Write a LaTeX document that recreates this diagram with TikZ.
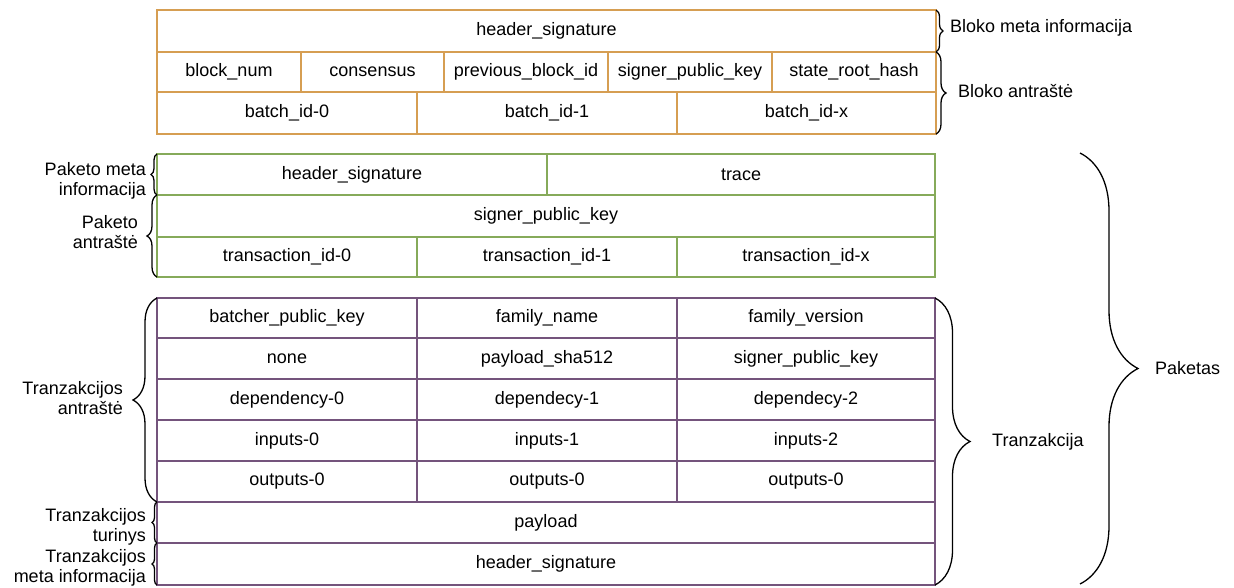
\documentclass[tikz,border=0pt]{standalone}
\usepackage{fontspec}
\setmainfont{Liberation Sans}
\usetikzlibrary{decorations.pathreplacing}
\definecolor{blockc}{RGB}{214,158,82}
\definecolor{batchc}{RGB}{134,170,90}
\definecolor{txc}{RGB}{116,84,124}

% cell: name, colour, x1, y1, x2, y2, text
\newcommand\mkcell[7]{%
  \node[cell, draw=#2, minimum width={(#5-#3)*1pt}, minimum height={(#6-#4)*1pt}]
    (#1) at (#3,#4) {#7};}

\begin{document}
\begin{tikzpicture}[x=1pt,y=-1pt,
  txt/.style={font=\fontsize{18}{20.5}\selectfont},
  cell/.style={txt, line width=1.5pt, inner sep=0pt, outer sep=0pt, anchor=north west},
  lbl/.style={txt, inner sep=0pt, align=right},
  brc/.style={decorate, decoration={brace, amplitude=#1}, line width=1.3pt, black}
]
\useasboundingbox (0,0) rectangle (1234,588);

% block
\mkcell{bh}{blockc}{157}{10}{936}{52}{header\_signature}
\mkcell{bn1}{blockc}{157}{52}{301}{92}{block\_num}
\mkcell{bn2}{blockc}{301}{52}{444}{92}{consensus}
\mkcell{bn3}{blockc}{444}{52}{608}{92}{previous\_block\_id}
\mkcell{bn4}{blockc}{608}{52}{772}{92}{signer\_public\_key}
\mkcell{bn5}{blockc}{772}{52}{936}{92}{state\_root\_hash}
\mkcell{bb0}{blockc}{157}{92}{417}{134}{batch\_id-0}
\mkcell{bb1}{blockc}{417}{92}{677}{134}{batch\_id-1}
\mkcell{bbx}{blockc}{677}{92}{936}{134}{batch\_id-x}

% batch
\mkcell{gh}{batchc}{157}{154}{547}{195}{header\_signature}
\mkcell{gt}{batchc}{547}{154}{935}{195}{trace}
\mkcell{gk}{batchc}{157}{195}{935}{237}{signer\_public\_key}
\mkcell{gi0}{batchc}{157}{237}{417}{277}{transaction\_id-0}
\mkcell{gi1}{batchc}{417}{237}{677}{277}{transaction\_id-1}
\mkcell{gix}{batchc}{677}{237}{935}{277}{transaction\_id-x}

% transaction
\mkcell{ta0}{txc}{157}{298}{417}{338}{batcher\_public\_key}
\mkcell{ta1}{txc}{417}{298}{677}{338}{family\_name}
\mkcell{ta2}{txc}{677}{298}{935}{338}{family\_version}
\mkcell{tb0}{txc}{157}{338}{417}{379}{none}
\mkcell{tb1}{txc}{417}{338}{677}{379}{payload\_sha512}
\mkcell{tb2}{txc}{677}{338}{935}{379}{signer\_public\_key}
\mkcell{tc0}{txc}{157}{379}{417}{420}{dependency-0}
\mkcell{tc1}{txc}{417}{379}{677}{420}{dependecy-1}
\mkcell{tc2}{txc}{677}{379}{935}{420}{dependecy-2}
\mkcell{td0}{txc}{157}{420}{417}{461}{inputs-0}
\mkcell{td1}{txc}{417}{420}{677}{461}{inputs-1}
\mkcell{td2}{txc}{677}{420}{935}{461}{inputs-2}
\mkcell{te0}{txc}{157}{461}{417}{502}{outputs-0}
\mkcell{te1}{txc}{417}{461}{677}{502}{outputs-0}
\mkcell{te2}{txc}{677}{461}{935}{502}{outputs-0}
\mkcell{tp}{txc}{157}{502}{935}{543}{payload}
\mkcell{ts}{txc}{157}{543}{935}{585}{header\_signature}

% right braces
\draw[brc=7] (bh.north east) -- (bh.south east);
\draw[brc=10] (bn5.north east) -- (bbx.south east);
\draw[brc=35] (ta2.north east) -- (ts.south east);
\coordinate (pkTop) at (1080,153);
\coordinate (pkBot) at (1080,584);
\draw[brc=58] (pkTop) -- (pkBot);

% left braces
\draw[brc=6] (gh.south west) -- (gh.north west);
\draw[brc=10] (gi0.south west) -- (gk.north west);
\draw[brc=24] (te0.south west) -- (ta0.north west);
\draw[brc=5] (tp.south west) -- (tp.north west);
\draw[brc=5] (ts.south west) -- (ts.north west);

% labels
\node[lbl, anchor=west] (lBm) at (950,28) {Bloko meta informacija};
\node[lbl, anchor=west] (lBa) at (958,91) {Bloko antraštė};
\node[lbl, anchor=west] (lTr) at (992,442) {Tranzakcija};
\node[lbl, anchor=west] (lPk) at (1155,368) {Paketas};
\node[lbl, anchor=east] (lPm) at (146,181) {Paketo meta\\informacija};
\node[lbl, anchor=east] (lPa) at (138,232) {Paketo\\antraštė};
\node[lbl, anchor=east] (lTa) at (123,398) {Tranzakcijos\\antraštė};
\node[lbl, anchor=east] (lTt) at (146,527) {Tranzakcijos\\turinys};
\node[lbl, anchor=east] (lTm) at (146,568) {Tranzakcijos\\meta informacija};
\end{tikzpicture}
\end{document}
